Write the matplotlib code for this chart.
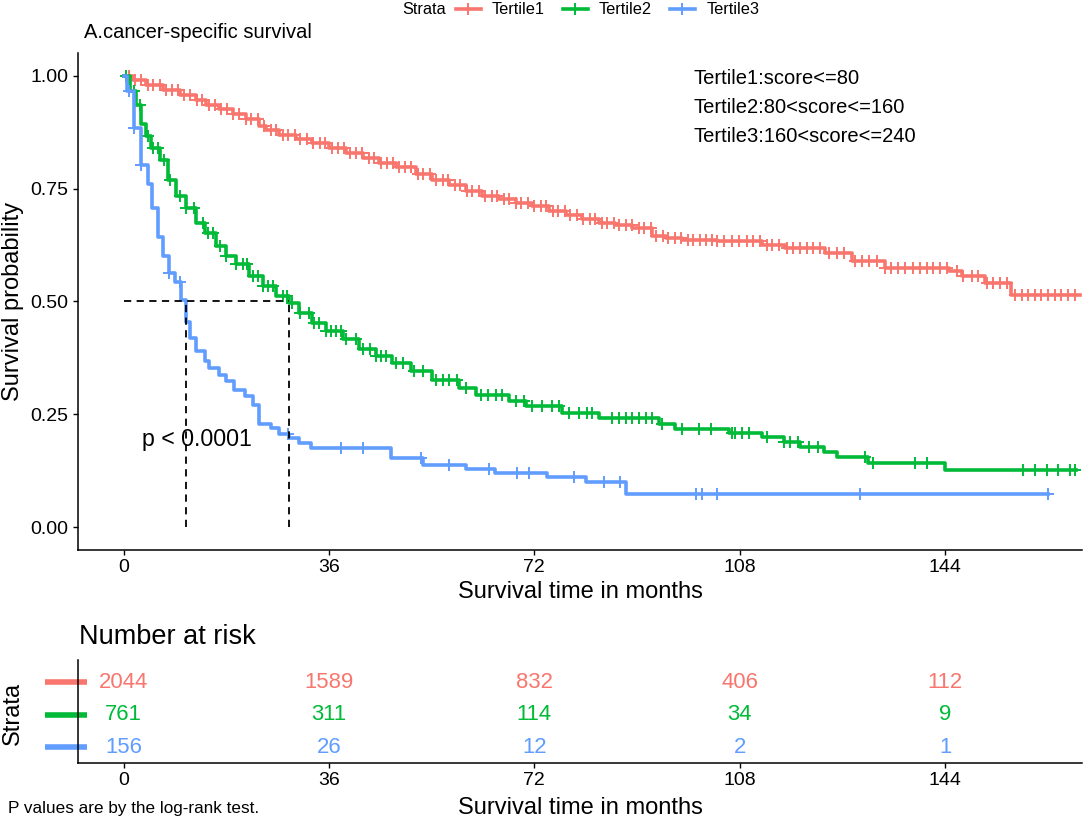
import matplotlib
matplotlib.use("Agg")
import matplotlib.pyplot as plt
from matplotlib.lines import Line2D
import numpy as np

plt.rcParams['font.family'] = ['Liberation Sans', 'DejaVu Sans']

# Kaplan-Meier curves (time in months, survival after the step)
t1_time = [0, 1.6, 4.0, 6.9, 9.8, 12.7, 14.5, 16.8, 19.1, 21.5, 23.8, 25.0, 27.3, 30.2, 33.1,
           36.0, 39.0, 41.9, 44.8, 47.7, 51.2, 54.1, 57.1, 60.0, 62.9, 65.8, 68.7, 71.6, 74.6,
           77.5, 80.4, 83.3, 86.2, 89.2, 92.6, 95.0, 97.9, 104.0, 111.9, 116.0, 123.0, 127.6,
           133.5, 144.6, 146.9, 151.0, 155.6, 167.6]
t1_surv = [1.0, 0.990, 0.980, 0.968, 0.958, 0.945, 0.934, 0.925, 0.914, 0.903, 0.888, 0.879,
           0.869, 0.860, 0.851, 0.840, 0.829, 0.818, 0.807, 0.798, 0.783, 0.768, 0.757, 0.744,
           0.734, 0.726, 0.718, 0.711, 0.700, 0.692, 0.683, 0.674, 0.669, 0.663, 0.645, 0.641,
           0.636, 0.634, 0.626, 0.619, 0.608, 0.589, 0.575, 0.567, 0.556, 0.541, 0.515, 0.515]

t2_time = [0, 1.05, 2.1, 3.1, 4.0, 4.8, 6.3, 7.8, 9.2, 11.0, 12.7, 14.2, 16.2, 18.0, 19.7, 22.0,
           24.4, 26.7, 29.0, 30.8, 33.1, 35.5, 38.4, 41.3, 44.2, 47.1, 50.3, 54.1, 58.8, 61.7,
           67.6, 70.5, 76.9, 83.3, 93.8, 96.7, 106.1, 111.9, 115.7, 118.6, 122.7, 125.0, 130.5,
           143.9, 167.0]
t2_surv = [1.0, 0.965, 0.936, 0.892, 0.866, 0.840, 0.814, 0.770, 0.733, 0.707, 0.674, 0.652,
           0.622, 0.600, 0.582, 0.556, 0.534, 0.512, 0.497, 0.475, 0.453, 0.434, 0.416, 0.394,
           0.379, 0.364, 0.346, 0.327, 0.309, 0.294, 0.279, 0.268, 0.254, 0.243, 0.228, 0.217,
           0.208, 0.199, 0.188, 0.177, 0.166, 0.156, 0.143, 0.128, 0.128]

t3_time = [0, 0.6, 1.9, 3.0, 4.3, 4.9, 6.1, 6.9, 8.0, 9.0, 10.0, 11.0, 11.7, 12.7, 14.3, 15.0,
           16.8, 18.0, 19.4, 21.2, 22.6, 23.8, 25.8, 27.3, 29.0, 30.8, 32.8, 46.8, 52.4, 60.1,
           65.1, 74.2, 81.0, 88.1, 162.0]
t3_surv = [1.0, 0.966, 0.885, 0.803, 0.759, 0.708, 0.642, 0.600, 0.564, 0.544, 0.503, 0.454,
           0.420, 0.390, 0.368, 0.353, 0.338, 0.324, 0.305, 0.290, 0.272, 0.228, 0.220, 0.206,
           0.198, 0.187, 0.176, 0.154, 0.139, 0.129, 0.120, 0.111, 0.100, 0.075, 0.075]

# censoring times (the "+" marks)
t1_cens = [0.9, 2.0, 3.1, 4.3, 5.2, 6.4, 7.4, 8.5, 9.6, 10.6, 11.7, 12.9, 13.8, 14.9, 16.1,
           17.0, 18.2, 19.2, 20.3, 21.5, 22.4, 23.6, 24.6, 25.8, 26.7, 27.9, 28.9, 30.1, 31.0,
           32.2, 33.2, 34.4, 35.3, 36.5, 37.5, 38.7, 39.6, 40.8, 41.8, 43.0, 43.9, 45.1, 46.1,
           47.3, 48.2, 49.4, 50.4, 51.6, 52.5, 53.7, 54.7, 55.9, 56.8, 58.0, 59.0, 60.2, 61.1,
           62.3, 63.3, 64.5, 65.4, 66.6, 67.6, 68.8, 69.7, 70.9, 71.9, 73.1, 74.0, 75.2, 76.2,
           77.4, 78.3, 79.5, 80.5, 81.7, 82.6, 83.8, 84.8, 86.0, 86.9, 88.1, 89.1, 90.3, 91.2,
           92.4, 93.4, 94.6, 95.5, 96.7, 97.7, 98.9, 99.8, 101.0, 102.0, 103.2, 104.1, 105.3,
           106.6, 107.8, 109.3, 110.4, 111.6, 112.8, 113.6, 114.8, 116.3, 117.4, 118.6, 119.8,
           120.9, 122.1, 123.6, 125.0, 126.2, 128.2, 129.4, 130.6, 132.0, 133.5, 134.6, 135.8,
           137.0, 138.4, 139.6, 140.8, 141.9, 143.1, 144.3, 146.0, 147.2, 148.7, 149.8, 151.3,
           152.4, 153.6, 154.8, 156.2, 157.4, 158.6, 159.7, 160.9, 162.1, 163.2, 164.4, 165.6,
           166.7]
t2_cens = [0.5, 1.9, 2.8, 4.3, 5.2, 6.0, 7.1, 8.1, 9.8, 11.0, 12.3, 13.9, 14.8, 15.6, 16.9,
           18.0, 19.7, 20.9, 21.7, 22.6, 23.5, 24.4, 25.3, 26.1, 27.9, 28.7, 29.6, 31.0, 32.5,
           33.4, 34.3, 35.5, 36.4, 37.2, 38.1, 39.0, 40.7, 41.9, 43.1, 44.2, 45.1, 46.0, 47.7,
           48.9, 50.9, 52.4, 54.7, 55.9, 57.1, 58.5, 60.0, 62.6, 63.8, 65.2, 66.4, 68.7, 70.2,
           71.6, 73.4, 75.1, 76.3, 78.0, 79.8, 81.3, 82.1, 85.6, 86.8, 88.0, 89.1, 90.3, 91.5,
           92.6, 94.4, 97.9, 100.8, 102.9, 106.6, 107.2, 108.4, 109.6, 112.8, 115.7, 116.9,
           118.3, 120.1, 121.8, 130.0, 131.4, 138.7, 140.8, 157.7, 159.8, 161.8, 163.8, 165.9,
           166.7]
t3_cens = [1.0, 1.9, 3.0, 8.0, 9.8, 28.8, 38.1, 41.9, 52.1, 57.0, 64.0, 69.0, 71.0, 79.0,
           84.2, 87.0, 100.4, 101.3, 104.0, 129.0, 162.0]

strata = ["Tertile1", "Tertile2", "Tertile3"]
colors = ["#F8766D", "#00BA38", "#619CFF"]
risk_times = [0, 36, 72, 108, 144]
risk_t1 = [2044, 1589, 832, 406, 112]
risk_t2 = [761, 311, 114, 34, 9]
risk_t3 = [156, 26, 12, 2, 1]
cutoff_notes = ["Tertile1:score<=80", "Tertile2:80<score<=160", "Tertile3:160<score<=240"]

curves = [(t1_time, t1_surv, t1_cens), (t2_time, t2_surv, t2_cens), (t3_time, t3_surv, t3_cens)]
risk = [risk_t1, risk_t2, risk_t3]

W, H = 1088, 821
fig = plt.figure(figsize=(W / 100, H / 100), dpi=100)

# main survival panel
ax = fig.add_axes([78 / W, 1 - 550 / H, 1004 / W, 497 / H])
for (tt, ss, cc), col in zip(curves, colors):
    ax.plot(tt, ss, drawstyle="steps-post", color=col, lw=2.6, zorder=3)
    idx = np.searchsorted(tt, cc, side="right") - 1
    ax.plot(cc, np.array(ss)[idx], ls="none", marker="+", ms=8, mew=1.4, color=col, zorder=3)

# median survival dashed lines
medians = []
for tt, ss, cc in curves:
    below = [t for t, s in zip(tt, ss) if s <= 0.5]
    if below:
        medians.append(below[0])
ax.plot([0, max(medians)], [0.5, 0.5], color="black", ls=(0, (4, 3)), lw=1.3, zorder=4)
for m in medians:
    ax.plot([m, m], [0, 0.5], color="black", ls=(0, (4, 3)), lw=1.3, zorder=4)

ax.set_xlim(-8, 168)
ax.set_ylim(-0.05, 1.05)
ax.set_xticks(risk_times)
ax.set_yticks([0, 0.25, 0.5, 0.75, 1.0])
ax.set_yticklabels(["0.00", "0.25", "0.50", "0.75", "1.00"])
for s in ["top", "right"]:
    ax.spines[s].set_visible(False)
for s in ["left", "bottom"]:
    ax.spines[s].set_linewidth(1.1)
ax.tick_params(labelsize=14, length=3.8, width=1.0, pad=3)

ax.text(3.3, 0.195, "p < 0.0001", fontsize=16.7, va="center", ha="left")
for i, note in enumerate(cutoff_notes):
    fig.text(693 / W, 1 - (79 + 28.5 * i) / H, note, fontsize=14.5, va="center", ha="left")

fig.text(84 / W, 1 - 32 / H, "A.cancer-specific survival", fontsize=14.5, va="center")
fig.text(13 / W, 1 - 301 / H, "Survival probability", fontsize=17, rotation=90,
         va="center", ha="center")
fig.text(580 / W, 1 - 592 / H, "Survival time in months", fontsize=17, va="center", ha="center")

# legend along the top
fig.text(402 / W, 1 - 10 / H, "Strata", fontsize=11.8, va="center")
handles = [Line2D([], [], color=c, lw=2.6, marker="+", ms=8, mew=1.4) for c in colors]
fig.legend(handles, strata, loc="center left", bbox_to_anchor=(456 / W, 1 - 10 / H),
           ncol=3, frameon=False, fontsize=11.8, handlelength=1.5, handletextpad=0.7,
           columnspacing=1.1, borderpad=0, borderaxespad=0)

# number at risk table
ax2 = fig.add_axes([78 / W, 1 - 763 / H, 1004 / W, 103 / H])
for row, (vals, col) in enumerate(zip(risk, colors)):
    for t, v in zip(risk_times, vals):
        ax2.text(t, row, str(v), color=col, fontsize=15.9, ha="center", va="center")
    ax2.plot([-0.033, 0.009], [row, row], color=col, lw=4, solid_capstyle="butt",
             transform=ax2.get_yaxis_transform(), clip_on=False)
ax2.set_xlim(-8, 168)
ax2.set_ylim(2.49, -0.68)
ax2.set_xticks(risk_times)
ax2.set_yticks([])
for s in ["top", "right"]:
    ax2.spines[s].set_visible(False)
for s in ["left", "bottom"]:
    ax2.spines[s].set_linewidth(1.1)
ax2.tick_params(labelsize=14, length=3.8, width=1.0, pad=3)

fig.text(79 / W, 1 - 637 / H, "Number at risk", fontsize=19.5, va="center")
fig.text(13 / W, 1 - 713 / H, "Strata", fontsize=17, rotation=90, va="center", ha="center")
fig.text(580 / W, 1 - 808 / H, "Survival time in months", fontsize=17, va="center", ha="center")
fig.text(8 / W, 1 - 808 / H, "P values are by the log-rank test.", fontsize=12.3, va="center")

fig.savefig("out.png", dpi=100)
